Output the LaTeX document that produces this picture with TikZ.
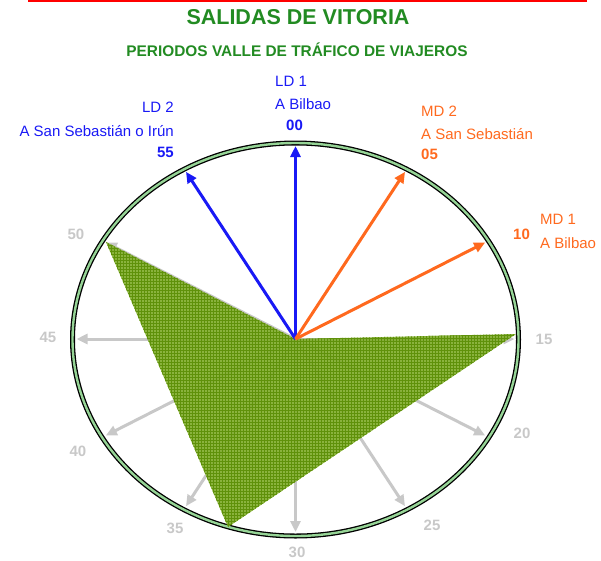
\documentclass[tikz,border=0pt]{standalone}
\usepackage{fontspec}
\setmainfont{Liberation Sans}
\usetikzlibrary{arrows.meta,patterns}
\definecolor{titlegreen}{RGB}{34,139,34}
\definecolor{ldblue}{RGB}{25,25,245}
\definecolor{mdorange}{RGB}{255,105,30}
\definecolor{tickgray}{RGB}{200,200,200}
\definecolor{fillgreen}{RGB}{128,172,45}
\definecolor{gridgreen}{RGB}{95,145,10}
\definecolor{ringgreen}{RGB}{150,212,150}
\begin{document}
\begin{tikzpicture}[x=1pt,y=-1pt,
  spoke/.style={line width=3pt,-{Triangle[length=11pt,width=10pt]}},
  lbl/.style={inner sep=0pt,font=\fontsize{15}{15}\selectfont},
  num/.style={inner sep=0pt,font=\fontsize{15}{15}\selectfont\bfseries},
  graynum/.style={num,text=tickgray},
  titlefont/.style={inner sep=0pt,text=titlegreen,font=\bfseries}]
\useasboundingbox (0,0) rectangle (601,560);
% top red rule
\draw[red,line width=2.5pt] (28,1.2) -- (587,1.2);
% titles
\node[titlefont,font=\fontsize{21.5}{21.5}\selectfont\bfseries] (title) at (298,17) {SALIDAS DE VITORIA};
\node[titlefont,font=\fontsize{15.4}{15.4}\selectfont\bfseries] (subtitle) at (297,50) {PERIODOS VALLE DE TRÁFICO DE VIAJEROS};
% centre and ring
\coordinate (c) at (295.5,339);
\draw[black,line width=5pt] (295.5,339.5) ellipse [x radius=223pt, y radius=196.5pt];
\draw[ringgreen,line width=2.4pt] (295.5,339.5) ellipse [x radius=223pt, y radius=196.5pt];
% spoke tips
\foreach \m in {0,5,10,15,20,25,30,35,40,45,50,55}{
  \path (c) ++({6*\m-90}:219 and 193) coordinate (t\m);
}
% gray spokes
\foreach \m in {15,20,25,30,35,40,45,50}{
  \draw[spoke,tickgray] (c) -- (t\m);
}
% green polygon
\coordinate (p50) at (106,242);
\coordinate (p15) at (516,334);
\coordinate (p33) at (228,527);
\fill[fillgreen,opacity=.92] (p50) -- (c) -- (p15) -- (p33) -- cycle;
\fill[pattern=grid,pattern color=gridgreen] (p50) -- (c) -- (p15) -- (p33) -- cycle;
% coloured spokes
\draw[spoke,ldblue] (c) -- (t0);
\draw[spoke,ldblue] (c) -- (t55);
\draw[spoke,mdorange] (c) -- (t5);
\draw[spoke,mdorange] (c) -- (t10);
% LD 1
\node[lbl,text=ldblue,anchor=west] (ld1a) at (275,81) {LD 1};
\node[lbl,text=ldblue,anchor=west] (ld1b) at (275,104) {A Bilbao};
\node[num,text=ldblue,anchor=west] (ld1c) at (286,125) {00};
% LD 2
\node[lbl,text=ldblue,anchor=east] (ld2a) at (174,107) {LD 2};
\node[lbl,text=ldblue,anchor=east] (ld2b) at (174,131) {A San Sebastián o Irún};
\node[num,text=ldblue,anchor=east] (ld2c) at (174,152) {55};
% MD 2
\node[lbl,text=mdorange,anchor=west] (md2a) at (421,111) {MD 2};
\node[lbl,text=mdorange,anchor=west] (md2b) at (421,134) {A San Sebastián};
\node[num,text=mdorange,anchor=west] (md2c) at (421,154) {05};
% MD 1
\node[lbl,text=mdorange,anchor=west] (md1a) at (540,219) {MD 1};
\node[lbl,text=mdorange,anchor=west] (md1b) at (540,243) {A Bilbao};
\node[num,text=mdorange,anchor=west] (md1c) at (513,234) {10};
% gray minute labels
\node[graynum] (n50) at (76,234) {50};
\node[graynum] (n45) at (48,337) {45};
\node[graynum] (n40) at (78,451) {40};
\node[graynum] (n35) at (175,528) {35};
\node[graynum] (n30) at (297,552) {30};
\node[graynum] (n25) at (432,525) {25};
\node[graynum] (n20) at (522,433) {20};
\node[graynum] (n15) at (544,339) {15};
\end{tikzpicture}
\end{document}
